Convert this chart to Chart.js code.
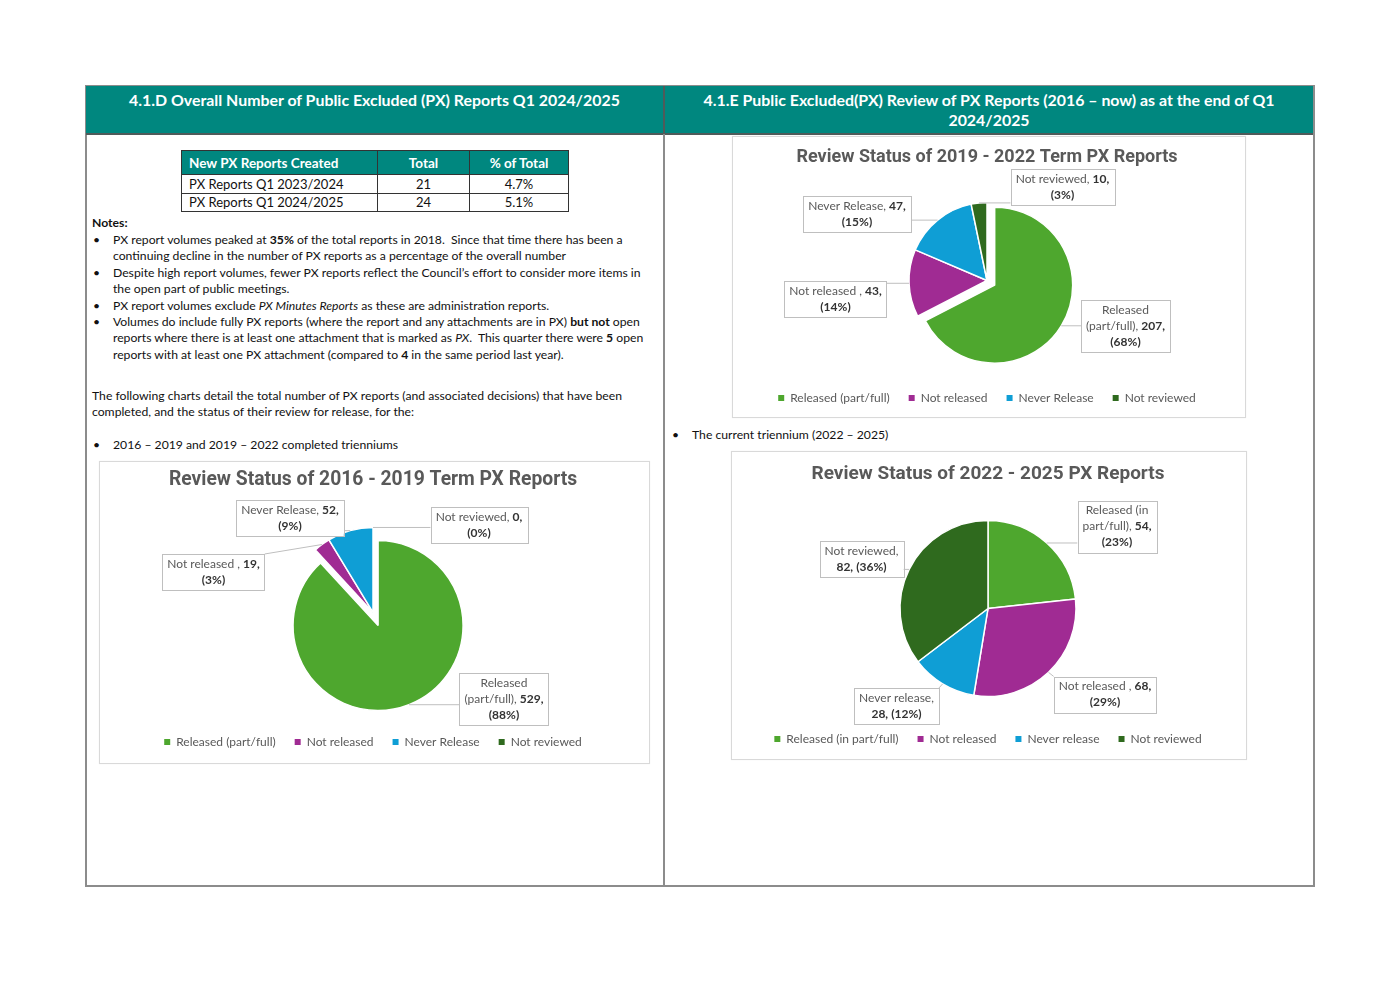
<!DOCTYPE html>
<html><head><meta charset="utf-8">
<script src="https://cdn.jsdelivr.net/npm/chart.js@4.4.1/dist/chart.umd.min.js"></script>
<style>
html,body{margin:0;padding:0;background:#fff;}
body{width:1398px;height:989px;position:relative;overflow:hidden;font-family:Lato,"Noto Sans",sans-serif;color:#111;}
.abs{position:absolute;}
.txt{font-size:12.2px;line-height:16.5px;white-space:nowrap;}
.hdr{color:#fff;font-weight:bold;font-size:15.9px;line-height:20px;text-align:center;white-space:nowrap;}
table.px{border-collapse:collapse;font-size:13px;}
table.px td,table.px th{border:1px solid #333;padding:0 7px;white-space:nowrap;}
table.px th{background:#00877f;color:#fff;font-weight:bold;height:23px;font-size:13.5px;}
table.px td{height:17.5px;}
.box{border:1px solid #d9d9d9;box-shadow:0 0 1px rgba(0,0,0,0.08);background:#fff;}
canvas{position:absolute;}
</style></head>
<body>
<!-- frame -->
<div class="abs" style="left:85px;top:85px;width:1230px;height:802px;box-sizing:border-box;border:2px solid #8c8c8c;"></div>
<div class="abs" style="left:86px;top:86px;width:1227px;height:47px;background:#00877f;border-bottom:2px solid #4f5b5a;"></div>
<div class="abs" style="left:663px;top:85px;width:2px;height:801px;background:#8c8c8c;"></div>
<div class="abs" style="left:663px;top:86px;width:2px;height:48px;background:#4f5b5a;"></div>

<div class="abs hdr" style="left:86px;top:90px;width:577px;">4.1.D Overall Number of Public Excluded (PX) Reports Q1 2024/2025</div>
<div class="abs hdr" style="left:665px;top:90px;width:648px;">4.1.E Public Excluded(PX) Review of PX Reports (2016 – now) as at the end of Q1<br>2024/2025</div>

<table class="px abs" style="left:181px;top:150px;">
<tr><th style="width:181px;text-align:left;">New PX Reports Created</th><th style="width:77px;">Total</th><th style="width:84px;">% of Total</th></tr>
<tr><td>PX Reports Q1 2023/2024</td><td style="text-align:center">21</td><td style="text-align:center">4.7%</td></tr>
<tr><td>PX Reports Q1 2024/2025</td><td style="text-align:center">24</td><td style="text-align:center">5.1%</td></tr>
</table>

<div class="abs txt" style="left:92px;top:214.75px;"><b>Notes:</b></div>
<div class="abs txt" style="left:93px;top:231.75px;">•</div>
<div class="abs txt" style="left:113px;top:231.75px;">PX report volumes peaked at <b>35%</b> of the total reports in 2018.&nbsp; Since that time there has been a<br>continuing decline in the number of PX reports as a percentage of the overall number</div>
<div class="abs txt" style="left:93px;top:264.75px;">•</div>
<div class="abs txt" style="left:113px;top:264.75px;">Despite high report volumes, fewer PX reports reflect the Council’s effort to consider more items in<br>the open part of public meetings.</div>
<div class="abs txt" style="left:93px;top:297.75px;">•</div>
<div class="abs txt" style="left:113px;top:297.75px;">PX report volumes exclude <i>PX Minutes Reports</i> as these are administration reports.</div>
<div class="abs txt" style="left:93px;top:313.75px;">•</div>
<div class="abs txt" style="left:113px;top:313.75px;">Volumes do include fully PX reports (where the report and any attachments are in PX) <b>but not</b> open<br>reports where there is at least one attachment that is marked as <i>PX</i>.&nbsp; This quarter there were <b>5</b> open<br>reports with at least one PX attachment (compared to <b>4</b> in the same period last year).</div>

<div class="abs txt" style="left:92px;top:387.75px;">The following charts detail the total number of PX reports (and associated decisions) that have been<br>completed, and the status of their review for release, for the:</div>
<div class="abs txt" style="left:93px;top:436.75px;">•</div>
<div class="abs txt" style="left:113px;top:436.75px;">2016 – 2019 and 2019 – 2022 completed trienniums</div>

<div class="abs txt" style="left:672px;top:426.75px;">•</div>
<div class="abs txt" style="left:692px;top:426.75px;">The current triennium (2022 – 2025)</div>

<div class="abs box" style="left:99px;top:461px;width:549px;height:301px;"></div>
<div class="abs box" style="left:732px;top:136px;width:512px;height:280px;"></div>
<div class="abs box" style="left:731px;top:451px;width:514px;height:307px;"></div>

<canvas id="c1" width="549" height="301" style="left:100px;top:462px;"></canvas>
<canvas id="c2" width="512" height="280" style="left:733px;top:137px;"></canvas>
<canvas id="c3" width="514" height="307" style="left:732px;top:452px;"></canvas>

<script>
// ---------- DATA ----------
const title1 = 'Review Status of 2016 - 2019 Term PX Reports';
const categories1 = ['Released (part/full)', 'Not released ', 'Never Release', 'Not reviewed'];
const values1 = [529, 19, 52, 0];

const title2 = 'Review Status of 2019 - 2022 Term PX Reports';
const categories2 = ['Released (part/full)', 'Not released ', 'Never Release', 'Not reviewed'];
const values2 = [207, 43, 47, 10];

const title3 = 'Review Status of 2022 - 2025 PX Reports';
const categories3 = ['Released (in part/full)', 'Not released ', 'Never release', 'Not reviewed'];
const values3 = [54, 68, 28, 82];

// ---------- STYLE ----------
const sliceColors = ['#4ea72e', '#a02b93', '#0f9ed5', '#2f6a1e'];
const FONT = 'Lato, "Noto Sans", sans-serif';
const TITLE_FONT = 'Roboto, Lato, sans-serif';

// label placement: box centre offset from pie centre (dx, dy) and wrap width
const place1 = [{dx:131,dy:86.5,w:92},{dx:-159.5,dy:-40.5,w:105},{dx:-83,dy:-94,w:108},{dx:106,dy:-87,w:95}];
const place2 = [{dx:138.5,dy:45.5,w:92},{dx:-151.5,dy:18.5,w:105},{dx:-130,dy:-66.5,w:108},{dx:75.5,dy:-93.5,w:100}];
const place3 = [{dx:129,dy:-82,w:80},{dx:117,dy:86,w:105},{dx:-91.5,dy:97.5,w:80},{dx:-126.5,dy:-49.5,w:80}];

// percentages rounded so that they add up to 100 (largest remainder)
function roundedPercents(vals) {
  const total = vals.reduce((a, b) => a + b, 0);
  const raw = vals.map(v => v / total * 100);
  const fl = raw.map(Math.floor);
  let left = 100 - fl.reduce((a, b) => a + b, 0);
  const order = raw.map((r, i) => [r - Math.floor(r), i]).sort((a, b) => b[0] - a[0]);
  for (let k = 0; k < order.length && left > 0; k++, left--) fl[order[k][1]]++;
  return fl;
}

// ---------- PLUGINS ----------
const explodePlugin = {
  id: 'explode',
  afterDatasetsUpdate(chart, args, opts) {
    const meta = chart.getDatasetMeta(0);
    meta.data.forEach((arc, i) => {
      const e = (opts.amounts || [])[i] || 0;
      arc.__explode = e;
      if (!arc.__patched) {
        const orig = arc.draw;
        arc.draw = function (ctx) {
          const mid = (this.startAngle + this.endAngle) / 2;
          ctx.save();
          ctx.translate(Math.cos(mid) * this.__explode, Math.sin(mid) * this.__explode);
          orig.call(this, ctx);
          ctx.restore();
        };
        arc.__patched = true;
      }
    });
  }
};

const calloutPlugin = {
  id: 'callouts',
  afterDatasetsDraw(chart, args, opts) {
    const ctx = chart.ctx;
    const meta = chart.getDatasetMeta(0);
    const ds = chart.data.datasets[0];
    const pcts = roundedPercents(ds.data);
    const explode = (chart.options.plugins.explode && chart.options.plugins.explode.amounts) || [];
    const fs = opts.fontSize, lh = opts.lineHeight;
    const fNorm = fs + 'px ' + FONT;
    const fBold = 'bold ' + fs + 'px ' + FONT;
    meta.data.forEach((arc, i) => {
      const pl = opts.placements[i];
      const v = ds.data[i];
      const name = chart.data.labels[i] + ',';
      const tokens = name.split(' ').filter(s => s.length).map(t => ({t, b: false}));
      tokens.push({t: v + ',', b: true});
      tokens.push({t: '(' + pcts[i] + '%)', b: true});
      ctx.save();
      ctx.font = fNorm;
      const sp = ctx.measureText(' ').width;
      tokens.forEach(tk => { ctx.font = tk.b ? fBold : fNorm; tk.w = ctx.measureText(tk.t).width; });
      const lines = []; let cur = []; let cw = 0;
      tokens.forEach(tk => {
        const add = cur.length ? sp + tk.w : tk.w;
        if (cur.length && cw + add > pl.w) { lines.push({toks: cur, w: cw}); cur = [tk]; cw = tk.w; }
        else { cur.push(tk); cw += add; }
      });
      if (cur.length) lines.push({toks: cur, w: cw});
      const maxW = Math.max(...lines.map(l => l.w));
      const bw = maxW + 2 * opts.padX, bh = lines.length * lh + 2 * opts.padY;
      const cx = arc.x + pl.dx, cy = arc.y + pl.dy;
      const bx = cx - bw / 2, by = cy - bh / 2;
      // leader line
      const mid = (arc.startAngle + arc.endAngle) / 2;
      const r = arc.outerRadius + (explode[i] || 0);
      const ax = arc.x + Math.cos(mid) * r, ay = arc.y + Math.sin(mid) * r;
      const px = Math.min(Math.max(ax, bx), bx + bw), py = Math.min(Math.max(ay, by), by + bh);
      ctx.strokeStyle = opts.lineColor; ctx.lineWidth = 1;
      if (Math.hypot(px - ax, py - ay) > 3) {
        ctx.beginPath(); ctx.moveTo(ax, ay); ctx.lineTo(px, py); ctx.stroke();
      }
      // box
      ctx.fillStyle = '#ffffff';
      ctx.fillRect(bx, by, bw, bh);
      ctx.strokeStyle = opts.boxBorder;
      ctx.strokeRect(Math.round(bx) + 0.5, Math.round(by) + 0.5, Math.round(bw), Math.round(bh));
      ctx.textBaseline = 'middle';
      lines.forEach((ln, li) => {
        let x = cx - ln.w / 2;
        const y = by + opts.padY + lh * li + lh / 2;
        ln.toks.forEach(tk => {
          ctx.font = tk.b ? fBold : fNorm;
          ctx.fillStyle = tk.b ? opts.boldColor : opts.textColor;
          ctx.fillText(tk.t, x, y);
          x += tk.w + sp;
        });
      });
      ctx.restore();
    });
  }
};

function makePie(id, title, titleSize, categories, values, placements, explodeAmounts, radius, titlePad, layoutPad) {
  return new Chart(document.getElementById(id), {
    type: 'pie',
    data: {
      labels: categories,
      datasets: [{
        data: values,
        backgroundColor: sliceColors,
        borderColor: '#ffffff',
        borderWidth: 1.5,
        radius: radius
      }]
    },
    options: {
      responsive: false,
      animation: false,
      devicePixelRatio: 1,
      layout: {padding: layoutPad},
      plugins: {
        tooltip: {enabled: false},
        title: {
          display: true, text: title, color: '#595959',
          font: {family: TITLE_FONT, size: titleSize, weight: 'bold'},
          padding: titlePad
        },
        legend: {
          position: 'bottom',
          labels: {
            color: '#595959', font: {family: FONT, size: 12},
            boxWidth: 6, boxHeight: 6, padding: 19,
            generateLabels: (chart) => Chart.overrides.pie.plugins.legend.labels.generateLabels(chart)
              .map(l => Object.assign(l, {text: l.text.trim(), lineWidth: 0}))
          }
        },
        explode: {amounts: explodeAmounts},
        callouts: {
          placements: placements, fontSize: 12, lineHeight: 16, padX: 5, padY: 2,
          textColor: '#595959', boldColor: '#333333', boxBorder: '#bfbfbf', lineColor: '#bfbfbf'
        }
      }
    },
    plugins: [explodePlugin, calloutPlugin]
  });
}

makePie('c1', title1, 19.3, categories1, values1, place1, [14, 0, 0, 0], 85,
  {top: 6.4, bottom: 16.4}, {top: 0, bottom: 5, left: 0, right: 3});
makePie('c2', title2, 18, categories2, values2, place2, [9, 0, 0, 0], 78,
  {top: 9.2, bottom: 20.2}, {top: 0, bottom: 3, left: 0, right: 4});
makePie('c3', title3, 19, categories3, values3, place3, [0, 0, 0, 0], 88,
  {top: 10.6, bottom: 17.6}, {top: 0, bottom: 4, left: 0, right: 2});
</script>
</body></html>
